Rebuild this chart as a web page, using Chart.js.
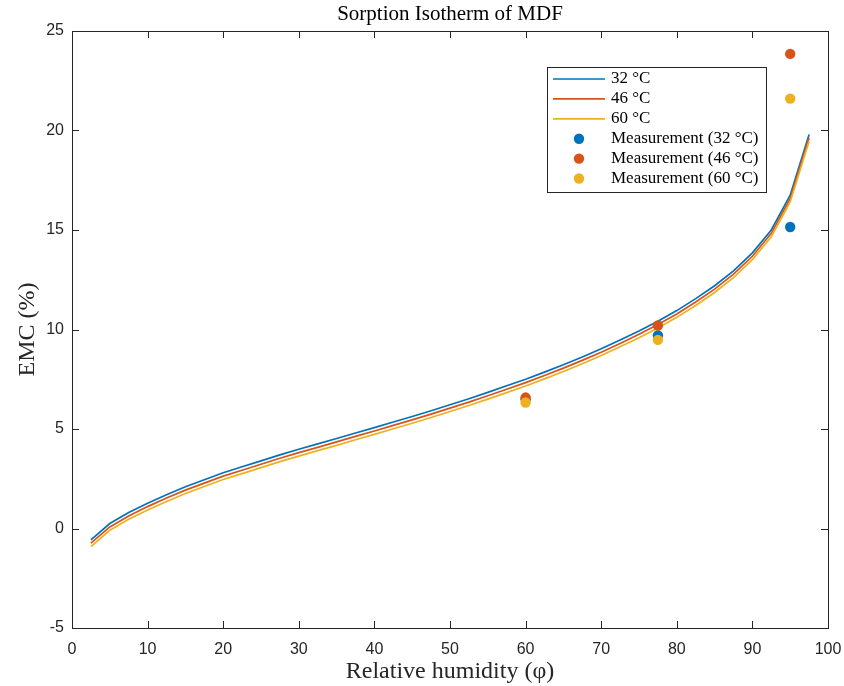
<!DOCTYPE html>
<html>
<head>
<meta charset="utf-8">
<title>Sorption Isotherm of MDF</title>
<script src="https://cdn.jsdelivr.net/npm/chart.js@4.4.1/dist/chart.umd.min.js"></script>
<style>
  html, body { margin: 0; padding: 0; background: #fff; }
</style>
</head>
<body>
<canvas id="isothermChart" width="844" height="686"></canvas>
<script>
// model curves (RH in %, EMC in %)
const humidity = [2.5, 5, 7.5, 10, 12.5, 15, 17.5, 20, 22.5, 25, 27.5, 30, 32.5, 35, 37.5, 40,
  42.5, 45, 47.5, 50, 52.5, 55, 57.5, 60, 62.5, 65, 67.5, 70, 72.5, 75, 77.5, 80, 82.5, 85,
  87.5, 90, 92.5, 95, 97.5];
const emc32 = [-0.57, 0.25, 0.8, 1.27, 1.7, 2.1, 2.45, 2.8, 3.1, 3.4, 3.7, 3.98, 4.25, 4.52,
  4.8, 5.07, 5.35, 5.63, 5.92, 6.22, 6.52, 6.84, 7.17, 7.5, 7.86, 8.23, 8.62, 9.03, 9.47,
  9.93, 10.42, 10.95, 11.55, 12.2, 12.95, 13.85, 15.0, 16.75, 19.8];
const emc46 = [-0.74, 0.08, 0.63, 1.1, 1.53, 1.93, 2.28, 2.63, 2.93, 3.23, 3.53, 3.81, 4.08,
  4.35, 4.63, 4.9, 5.18, 5.46, 5.75, 6.05, 6.35, 6.67, 7.0, 7.33, 7.69, 8.06, 8.45, 8.86, 9.3,
  9.76, 10.25, 10.78, 11.38, 12.03, 12.78, 13.68, 14.83, 16.58, 19.63];
const emc60 = [-0.91, -0.09, 0.46, 0.93, 1.36, 1.76, 2.11, 2.46, 2.76, 3.06, 3.36, 3.64, 3.91,
  4.18, 4.46, 4.73, 5.01, 5.29, 5.58, 5.88, 6.18, 6.5, 6.83, 7.16, 7.52, 7.89, 8.28, 8.69,
  9.13, 9.59, 10.08, 10.61, 11.21, 11.86, 12.61, 13.51, 14.66, 16.41, 19.46];

// measurements
const measHumidity = [60, 77.5, 95];
const meas32 = [6.5, 9.7, 15.15];
const meas46 = [6.58, 10.2, 23.85];
const meas60 = [6.33, 9.48, 21.6];

const xTicks = [0, 10, 20, 30, 40, 50, 60, 70, 80, 90, 100];
const yTicks = [-5, 0, 5, 10, 15, 20, 25];

const chartTitle = 'Sorption Isotherm of MDF';
const seriesLabels = ['32 °C', '46 °C', '60 °C'];
const measLabels = ['Measurement (32 °C)', 'Measurement (46 °C)', 'Measurement (60 °C)'];
const colors = ['#0072BD', '#D95319', '#EDB120'];

const axisColor = '#262626';
const serif = '"Liberation Serif", "Times New Roman", serif';
const sans = '"Liberation Sans", Arial, Helvetica, sans-serif';

const toPoints = (xs, ys) => xs.map((x, i) => ({ x, y: ys[i] }));

const curves = [emc32, emc46, emc60];
const measurements = [meas32, meas46, meas60];

const datasets = [];
curves.forEach((ys, i) => {
  datasets.push({
    label: seriesLabels[i],
    data: toPoints(humidity, ys),
    borderColor: colors[i],
    borderWidth: 1.7,
    pointRadius: 0,
    tension: 0,
    order: 6 - i,
  });
});
measurements.forEach((ys, i) => {
  datasets.push({
    label: measLabels[i],
    data: toPoints(measHumidity, ys),
    showLine: false,
    backgroundColor: colors[i],
    borderWidth: 0,
    pointRadius: 5.2,
    order: 3 - i,
  });
});

// title over the plot box, box, inward ticks on all four sides, legend
const matlabAxes = {
  id: 'matlabAxes',
  afterDraw(chart) {
    const { ctx, chartArea: a, scales } = chart;
    const tick = 7;
    ctx.save();

    ctx.fillStyle = '#000';
    ctx.font = '21px ' + serif;
    ctx.textAlign = 'center';
    ctx.textBaseline = 'middle';
    ctx.fillText(chartTitle, (a.left + a.right) / 2, 14.5);

    ctx.strokeStyle = axisColor;
    ctx.lineWidth = 1;
    ctx.strokeRect(Math.round(a.left) + 0.5, Math.round(a.top) + 0.5,
      Math.round(a.right - a.left), Math.round(a.bottom - a.top));
    ctx.beginPath();
    xTicks.forEach((v) => {
      const px = Math.round(scales.x.getPixelForValue(v)) + 0.5;
      ctx.moveTo(px, a.bottom); ctx.lineTo(px, a.bottom - tick);
      ctx.moveTo(px, a.top); ctx.lineTo(px, a.top + tick);
    });
    yTicks.forEach((v) => {
      const py = Math.round(scales.y.getPixelForValue(v)) + 0.5;
      ctx.moveTo(a.left, py); ctx.lineTo(a.left + tick, py);
      ctx.moveTo(a.right, py); ctx.lineTo(a.right - tick, py);
    });
    ctx.stroke();

    // legend
    const lx = 547.5, ly = 67.5, lw = 219, lh = 125, row = 19.9;
    ctx.fillStyle = '#fff';
    ctx.fillRect(lx, ly, lw, lh);
    ctx.strokeStyle = axisColor;
    ctx.strokeRect(lx, ly, lw, lh);
    ctx.font = '17px ' + serif;
    ctx.textBaseline = 'middle';
    ctx.textAlign = 'left';
    seriesLabels.forEach((t, i) => {
      const y = 79 + i * row;
      ctx.strokeStyle = colors[i];
      ctx.lineWidth = 1.7;
      ctx.beginPath();
      ctx.moveTo(553, y); ctx.lineTo(605, y);
      ctx.stroke();
      ctx.fillStyle = '#000';
      ctx.fillText(t, 611, y);
    });
    measLabels.forEach((t, i) => {
      const y = 79 + (i + 3) * row;
      ctx.fillStyle = colors[i];
      ctx.beginPath();
      ctx.arc(579, y, 5.2, 0, Math.PI * 2);
      ctx.fill();
      ctx.fillStyle = '#000';
      ctx.fillText(t, 611, y);
    });
    ctx.restore();
  },
};

new Chart(document.getElementById('isothermChart'), {
  type: 'line',
  data: { datasets },
  plugins: [matlabAxes],
  options: {
    responsive: false,
    devicePixelRatio: 1,
    animation: false,
    layout: { padding: { left: 0, right: 16, top: 31, bottom: 0 } },
    plugins: {
      legend: { display: false },
      tooltip: { enabled: false },
      title: { display: false },
    },
    scales: {
      x: {
        type: 'linear',
        min: 0,
        max: 100,
        afterFit: (s) => { s.height = 58; s.paddingLeft = 0; s.paddingRight = 0; },
        afterBuildTicks: (s) => { s.ticks = xTicks.map((v) => ({ value: v })); },
        grid: { display: false, drawTicks: false },
        border: { display: false },
        ticks: { color: axisColor, font: { family: sans, size: 16 }, padding: 12, maxRotation: 0 },
        title: {
          display: true,
          text: 'Relative humidity (φ)',
          color: '#262626',
          font: { family: serif, size: 24, lineHeight: 1.2 },
          padding: { top: 0, bottom: 0 },
        },
      },
      y: {
        type: 'linear',
        min: -5,
        max: 25,
        afterFit: (s) => { s.width = 72; s.paddingTop = 0; s.paddingBottom = 0; },
        afterBuildTicks: (s) => { s.ticks = yTicks.map((v) => ({ value: v })); },
        grid: { display: false, drawTicks: false },
        border: { display: false },
        ticks: { color: axisColor, font: { family: sans, size: 16 }, padding: 8 },
        title: {
          display: true,
          text: 'EMC (%)',
          color: '#262626',
          font: { family: serif, size: 24, lineHeight: 1.2 },
          padding: { top: 13, bottom: 0 },
        },
      },
    },
  },
});
</script>
</body>
</html>
